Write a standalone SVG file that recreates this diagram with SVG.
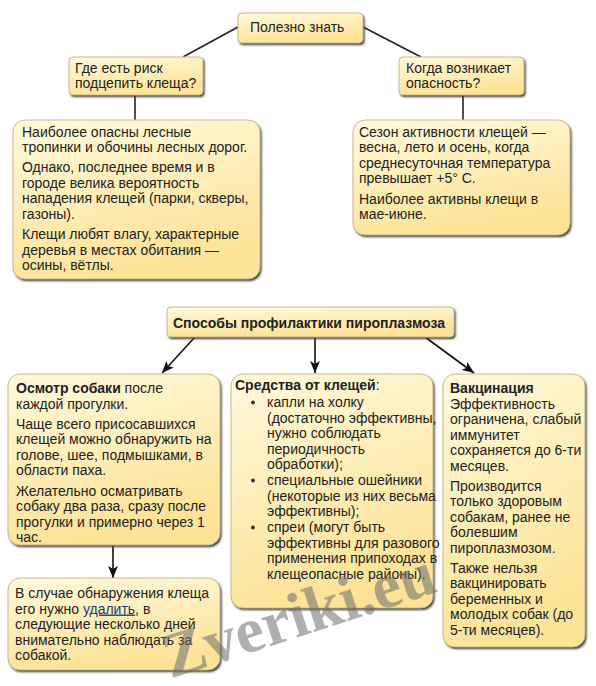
<svg xmlns="http://www.w3.org/2000/svg" width="596" height="686" viewBox="0 0 596 686">
<defs>
<linearGradient id="g" x1="0" y1="0" x2="0.3" y2="1">
<stop offset="0" stop-color="#fff9dc"/>
<stop offset="1" stop-color="#fce397"/>
</linearGradient>
<filter id="sh" x="-10%" y="-10%" width="130%" height="130%">
<feGaussianBlur stdDeviation="0.8"/>
</filter>
<marker id="ah" viewBox="0 0 12 10" refX="12" refY="5" markerWidth="12" markerHeight="10" markerUnits="userSpaceOnUse" orient="auto">
<path d="M0,0 L12,5 L0,10 L3,5 z" fill="#111"/>
</marker>
</defs>
<style>
.box{fill:url(#g);stroke:#c9b98a;stroke-width:1}
.shd{fill:#3a3a3a;filter:url(#sh)}
text{font-family:"Liberation Sans",Arial,sans-serif;font-size:14px;fill:#222}
.b{font-weight:bold}
.ln{stroke:#222;stroke-width:1.6;fill:none}
.ar{stroke:#111;stroke-width:1.6;fill:none;marker-end:url(#ah)}
.dot{fill:#333}
</style>
<rect width="596" height="686" fill="#fff"/>

<g id="connectors">
<line class="ln" x1="238" y1="27" x2="183" y2="57"/>
<line class="ln" x1="363" y1="27" x2="421" y2="57"/>
<line class="ln" x1="135" y1="95" x2="135" y2="120"/>
<line class="ln" x1="463" y1="95" x2="463" y2="120"/>
<line class="ar" x1="195" y1="337" x2="162" y2="373"/>
<line class="ar" x1="315" y1="337" x2="315" y2="373"/>
<line class="ar" x1="425" y1="337" x2="474" y2="373"/>
<line class="ar" x1="113" y1="545" x2="113" y2="578"/>
</g>

<g id="n-polezno">
<rect class="shd" x="239.5" y="15" width="125" height="30" rx="4"/>
<rect class="box" x="238" y="13" width="125" height="30" rx="4"/>
<text x="250" y="32">Полезно знать</text>
</g>

<g id="n-gde">
<rect class="shd" x="70.5" y="59" width="134" height="38" rx="4"/>
<rect class="box" x="69" y="57" width="134" height="38" rx="4"/>
<text x="75" y="73">Где есть риск</text>
<text x="75" y="88">подцепить клеща?</text>
</g>

<g id="n-kogda">
<rect class="shd" x="400.5" y="59" width="125" height="38" rx="4"/>
<rect class="box" x="399" y="57" width="125" height="38" rx="4"/>
<text x="406" y="73">Когда возникает</text>
<text x="406" y="88">опасность?</text>
</g>

<g id="n-where">
<rect class="shd" x="14.5" y="122" width="247" height="159" rx="12"/>
<rect class="box" x="13" y="120" width="247" height="159" rx="12"/>
<text x="22" y="136.5">Наиболее опасны лесные</text>
<text x="22" y="152">тропинки и обочины лесных дорог.</text>
<text x="22" y="172">Однако, последнее время и в</text>
<text x="22" y="187.5">городе велика вероятность</text>
<text x="22" y="203">нападения клещей (парки, скверы,</text>
<text x="22" y="218.5">газоны).</text>
<text x="22" y="239">Клещи любят влагу, характерные</text>
<text x="22" y="254.5">деревья в местах обитания —</text>
<text x="22" y="270">осины, вётлы.</text>
</g>

<g id="n-when">
<rect class="shd" x="354.5" y="122" width="217" height="115" rx="12"/>
<rect class="box" x="353" y="120" width="217" height="115" rx="12"/>
<text x="359" y="136.5">Сезон активности клещей —</text>
<text x="359" y="152">весна, лето и осень, когда</text>
<text x="359" y="167.5">среднесуточная температура</text>
<text x="359" y="183">превышает +5° С.</text>
<text x="359" y="203.5">Наиболее активны клещи в</text>
<text x="359" y="219">мае-июне.</text>
</g>

<g id="n-sposoby">
<rect class="shd" x="168.5" y="309" width="287" height="30" rx="4"/>
<rect class="box" x="167" y="307" width="287" height="30" rx="4"/>
<text class="b" x="173" y="328">Способы профилактики пироплазмоза</text>
</g>

<g id="n-osmotr">
<rect class="shd" x="9.5" y="376" width="212" height="171" rx="12"/>
<rect class="box" x="8" y="374" width="212" height="171" rx="12"/>
<text x="16" y="393"><tspan class="b">Осмотр собаки</tspan> после</text>
<text x="16" y="408.5">каждой прогулки.</text>
<text x="16" y="428.5">Чаще всего присосавшихся</text>
<text x="16" y="444">клещей можно обнаружить на</text>
<text x="16" y="459.5">голове, шее, подмышками, в</text>
<text x="16" y="475">области паха.</text>
<text x="16" y="495.5">Желательно осматривать</text>
<text x="16" y="511">собаку два раза, сразу после</text>
<text x="16" y="526.5">прогулки и примерно через 1</text>
<text x="16" y="542">час.</text>
</g>

<g id="n-sredstva">
<rect class="shd" x="232.5" y="376" width="202" height="234" rx="12"/>
<rect class="box" x="231" y="374" width="202" height="234" rx="12"/>
<text x="235" y="390"><tspan class="b">Средства от клещей</tspan>:</text>
<circle class="dot" cx="253" cy="402.5" r="2"/>
<text x="267" y="407">капли на холку</text>
<text x="267" y="422.5">(достаточно эффективны,</text>
<text x="267" y="438">нужно соблюдать</text>
<text x="267" y="453.5">периодичность</text>
<text x="267" y="469">обработки);</text>
<circle class="dot" cx="253" cy="480.5" r="2"/>
<text x="267" y="485">специальные ошейники</text>
<text x="267" y="500.5">(некоторые из них весьма</text>
<text x="267" y="516">эффективны);</text>
<circle class="dot" cx="253" cy="527.5" r="2"/>
<text x="267" y="532">спреи (могут быть</text>
<text x="267" y="547.5">эффективны для разового</text>
<text x="267" y="563">применения припоходах в</text>
<text x="267" y="578.5">клещеопасные районы).</text>
</g>

<g id="n-vakc">
<rect class="shd" x="444.5" y="376" width="142" height="273" rx="12"/>
<rect class="box" x="443" y="374" width="142" height="273" rx="12"/>
<text class="b" x="450" y="393">Вакцинация</text>
<text x="450" y="408.5">Эффективность</text>
<text x="450" y="424">ограничена, слабый</text>
<text x="450" y="439.5">иммунитет</text>
<text x="450" y="455">сохраняется до 6-ти</text>
<text x="450" y="470.5">месяцев.</text>
<text x="450" y="490.5">Производится</text>
<text x="450" y="506">только здоровым</text>
<text x="450" y="521.5">собакам, ранее не</text>
<text x="450" y="537">болевшим</text>
<text x="450" y="552.5">пироплазмозом.</text>
<text x="450" y="572.5">Также нельзя</text>
<text x="450" y="588">вакцинировать</text>
<text x="450" y="603.5">беременных и</text>
<text x="450" y="619">молодых собак (до</text>
<text x="450" y="634.5">5-ти месяцев).</text>
</g>

<g id="n-sluchae">
<rect class="shd" x="9.5" y="580" width="212" height="92" rx="12"/>
<rect class="box" x="8" y="578" width="212" height="92" rx="12"/>
<text x="15" y="598">В случае обнаружения клеща</text>
<text x="15" y="613.5">его нужно <tspan fill="#1d3b6e" text-decoration="underline">удалить</tspan>, в</text>
<text x="15" y="629">следующие несколько дней</text>
<text x="15" y="644.5">внимательно наблюдать за</text>
<text x="15" y="660">собакой.</text>
</g>

<g id="watermark" opacity="0.55">
<text x="305" y="635" text-anchor="middle" transform="rotate(-18 305 635)" style="font-family:'Liberation Serif','Times New Roman',serif;font-size:64px;font-weight:bold;fill:#6e6e6e">Zveriki.eu</text>
</g>
</svg>
